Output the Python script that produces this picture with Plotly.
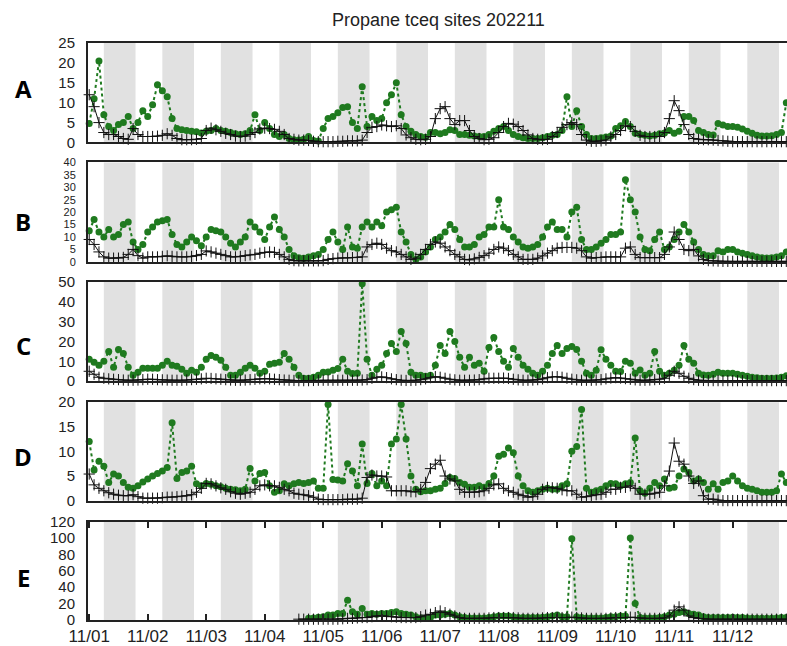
import pandas as pd
import plotly.graph_objects as go

title_text = "Propane tceq sites 202211"
panel_letters = ["A", "B", "C", "D", "E"]
day_labels = ["11/01", "11/02", "11/03", "11/04", "11/05", "11/06",
              "11/07", "11/08", "11/09", "11/10", "11/11", "11/12"]
y_max = [25, 40, 50, 20, 120]
y_step = [5, 5, 10, 5, 20]

# 2-hourly samples from 2022-11-01 00:00 (12 per day, 12 days)
times = pd.date_range("2022-11-01 00:00", periods=144, freq="2h")
N = None

A_green = [
    4.8, 11, 20.5, 7, 4, 3, 4.5, 5, 6.5, 3.5, 5, 8,
    6.5, 9.5, 14.5, 13, 11.5, 6, 3.5, 3.2, 3, 2.8, 2.7, 2.4,
    2.8, 3, 3.5, 3, 2.8, 2.5, 2.2, 2, 2.2, 3, 7, 3,
    5, 3.5, 2, 1.5, 2, 1, 0.7, 0.6, 0.8, 1.5, 0.5, 0.4,
    3.5, 6, 6.5, 7.5, 8.8, 9, 5, 3.5, 14, 4, 6.5, 5.5,
    6, 10, 12, 15, 7, 4, 2.8, 2, 1.5, 1.3, 2.5, 2.5,
    2.2, 2.5, 3.2, 3, 2, 2, 1.8, 1.6, 1.5, 1.5, 2, 2.8,
    3.5, 4, 3, 2, 1.5, 1.2, 1, 1, 1, 1.2, 1.5, 1.8,
    2, 3, 11.5, 4, 8, 4, 2, 1, 1, 1.2, 1.4, 1.6,
    3.5, 4.2, 5.3, 4, 2.3, 2, 1.8, 1.6, 1.8, 2.2, 2.4, 3,
    2.3, 2.8, 6.5, 6.5, 5.5, 3, 2.5, 2, 1.9, 4.8, 4.4, 4,
    4, 3.8, 3.4, 2.8, 2.3, 1.8, 1.6, 1.6, 1.7, 2, 2.5, 10,
]
A_black = [
    12, 9, 5, 2.5, 2, 2, 1.5, 1, 0.8, 3.5, 2, 1.5,
    1.5, 1.5, 1.6, 1.8, 2.2, 1.8, 1, 0.7, 0.7, 0.7, 0.8, 1,
    3, 3.6, 3.2, 2.8, 2.3, 2, 1.6, 1.5, 1.6, 2, 2.5, 3.4,
    3.6, 3.5, 3.3, 2.8, 2, 1, 0.8, 0.6, 0.6, 0.5, 0.3, 0.2,
    0.2, 0.2, 0.2, 0.3, 0.3, 0.4, 0.4, 0.4, 0.6, 2.5, 3.8, 4,
    4.4, 4.2, 4, 4.2, 3.5, 1.9, 1.2, 0.8, 0.7, 0.8, 1.5, 6,
    8.5, 9, 6, 4.5, 5.5, 5.5, 3, 1.5, 1, 0.7, 0.8, 1.2,
    2.5, 4, 4.8, 4.6, 4, 3, 1.9, 1, 0.8, 0.7, 0.8, 1.5,
    2.5, 3.8, 4.5, 5, 4.5, 2, 0.6, 0.3, 0.3, 0.4, 0.6, 1.4,
    2, 3, 4.2, 4, 2.8, 1.8, 1.5, 1.5, 1.5, 1.5, 2.5, 6,
    10.5, 8, 4.5, 2, 1, 0.8, 0.7, 0.7, 0.6, 0.5, 0.4, 0.3,
    0.2, 0.2, 0.2, 0.2, 0.2, 0.2, 0.2, 0.2, 0.2, 0.2, 0.2, 0.2,
]
B_green = [
    12.5, 17, 12, 10, 13, 10, 11, 15, 16, 8, 5, 7,
    12, 14, 16, 16.5, 17, 11, 7, 6, 8, 10, 8.5, 6.5,
    10, 13, 12.5, 12, 10, 7.5, 6, 8, 10, 16, 14, 12,
    9, 14, 18, 13, 10, 5, 2.5, 1.7, 1.5, 2, 2.5, 3,
    5, 9, 12, 8, 5, 14, 6, 5.5, 14, 16, 14, 16,
    14.5, 20, 21, 22, 12, 8, 3, 1, 2, 4, 6, 9,
    10, 12, 15, 13, 9, 6, 6, 7, 10, 11, 14, 14,
    25, 14, 13, 10, 8, 6, 5.5, 6, 7, 10, 14, 16,
    13, 13, 10, 20, 22, 9, 5, 5, 6, 7.5, 9, 11,
    11, 12, 33, 25, 20, 10, 5, 4.5, 9, 12, 5, 6,
    9, 12, 15, 12, 8, 5, 3, 2.5, 2.5, 4.5, 4, 5,
    5, 4, 3.5, 3, 2.5, 2, 1.7, 1.6, 1.7, 2, 2.5, 4,
]
B_black = [
    9, 7, 4, 2, 1.5, 1.5, 1.5, 1.8, 3, 5, 2.5, 1.5,
    2, 2, 2, 2.2, 2.4, 2.2, 2, 2, 2, 2.2, 2.5, 3,
    4.4, 4, 3.5, 3, 2.5, 2, 2, 2.2, 2.5, 2.8, 3, 3.5,
    3.8, 4, 3.8, 3, 2, 1, 0.5, 0.4, 0.4, 0.4, 0.4, 0.4,
    0.5, 1, 1.3, 1.5, 1.6, 1.6, 1.7, 1.8, 2, 6, 7, 7.5,
    7, 5.5, 4.5, 4, 3, 2, 1, 1.5, 3, 5, 7, 8,
    7.5, 6, 4.5, 3, 2, 1, 0.8, 1.2, 1.8, 2.5, 3.5, 5,
    6, 5.5, 4.5, 3, 2, 1, 1, 1, 1.5, 2.4, 3.5, 4.5,
    5.5, 5.8, 5.8, 5.8, 5.5, 4.5, 2, 1.5, 1.7, 1.8, 2, 2,
    2, 2, 5.5, 6, 3, 1.7, 1.7, 1.7, 1.7, 1.7, 3, 6,
    12, 9, 5, 4.5, 5, 2.4, 1, 0.5, 0.4, 0.3, 0.2, 0.2,
    0.2, 0.2, 0.2, 0.2, 0.2, 0.2, 0.2, 0.2, 0.2, 0.2, 0.2, 0.2,
]
C_green = [
    11, 9.5, 8, 10, 15, 7, 16, 14, 7, 3, 4.5, 6.5,
    6.5, 6.5, 6.5, 8, 10, 8, 7.5, 6, 4, 5.5, 4.5, 7,
    11, 13, 12, 10.5, 7, 3, 3, 4.5, 6.5, 8, 6.5, 4,
    5, 8.5, 9, 9.5, 14, 11, 7, 3, 1.5, 1.5, 2, 3,
    4.5, 4.7, 5.5, 6.4, 11, 5, 3.9, 4, 49, 11, 3, 6,
    8, 14, 19, 15, 25, 19, 4.5, 3, 3, 2.5, 3, 8,
    18, 14, 25, 20, 12, 7, 12, 8, 9, 5, 17, 22,
    15, 10, 7, 16.5, 12, 8, 6, 4, 3, 5, 8, 14,
    18, 14, 16.5, 17.4, 16, 10, 4, 3, 5.5, 15.8, 11, 8,
    5, 4.9, 10, 9, 4, 5.7, 3, 4, 15, 5, 3, 4,
    5.5, 8, 18, 11, 9, 4, 3.2, 3, 3.5, 4.5, 4, 4,
    4, 3.5, 3, 2.5, 2, 1.8, 1.5, 1.5, 1.5, 1.6, 2, 2.7,
]
C_black = [
    5, 3.5, 2, 1.5, 1.2, 1, 0.8, 0.6, 0.5, 0.5, 0.6, 0.8,
    1, 1, 0.8, 0.7, 0.6, 0.5, 0.5, 0.5, 0.6, 0.8, 1, 1.2,
    1.5, 1.4, 1.2, 1, 0.8, 0.6, 0.5, 0.5, 0.6, 0.8, 1, 1.2,
    1.3, 1.2, 1, 0.8, 0.6, 0.5, 0.4, 0.3, 0.3, 0.3, 0.4, 0.5,
    0.5, 0.5, 0.5, 0.5, 0.5, 0.5, 0.5, 0.5, 0.6, 0.8, 1.5, 2,
    2.2, 1.8, 1.2, 0.8, 0.5, 0.4, 0.4, 0.5, 0.8, 1.2, 1.8, 2.3,
    2, 1.5, 1, 0.7, 0.5, 0.5, 0.5, 0.6, 0.8, 1.2, 1.5, 1.5,
    1.5, 1.6, 1.4, 1, 0.7, 0.5, 0.5, 0.6, 0.8, 1.2, 1.8, 2.2,
    2.3, 2, 1.5, 1, 0.7, 0.5, 0.5, 0.5, 0.6, 0.8, 1.2, 1.6,
    1.8, 1.6, 1.3, 1, 0.7, 0.5, 0.5, 0.6, 0.8, 1, 1.5, 3,
    5, 4, 2.5, 1.5, 0.8, 0.5, 0.4, 0.3, 0.3, 0.3, 0.3, 0.3,
    0.3, 0.3, 0.3, 0.3, 0.3, 0.3, 0.3, 0.3, 0.3, 0.3, 0.3, 0.3,
]
D_green = [
    12, 6.2, 8, 7, 3.7, 5.4, 5, 3.7, 2.7, 2.5, 3, 3.8,
    4.4, 5, 5.5, 6, 6.7, 15.8, 4.5, 5.7, 6, 7, 3.4, 3,
    3.5, 3.3, 3, 2.8, 2.5, 2.3, 2.2, 2, 2.3, 6.5, 4, 5.5,
    5.7, 3, 1.7, 2, 3.4, 3, 3.4, 3.7, 3.5, 3.7, 4, 2.5,
    2.5, 19.5, 4.3, 4.2, 4, 7.5, 6, 3, 11.5, 3.5, 5.5, 3,
    4, 3, 11.5, 12.5, 19.5, 12.5, 5, 2.3, 1.8, 2, 2, 2.3,
    2.5, 3.5, 4.7, 4.5, 3.7, 3.3, 2.7, 2.7, 3, 2.7, 3.5, 5,
    9, 9.4, 10.7, 9.7, 5, 3, 2, 1.7, 2, 2.3, 2.5, 2.3,
    2.3, 3, 3.4, 10, 11, 18.5, 2.5, 1.7, 2, 2.3, 3, 3.5,
    3.4, 3, 3.4, 3.7, 12.7, 2, 1.5, 2.5, 3.7, 3, 4.4, 2.5,
    2.7, 5, 6.4, 5.7, 4, 4.4, 3.7, 2.3, 3.4, 2.3, 3.7, 4,
    5, 4, 3, 2.5, 2.3, 2, 1.7, 1.7, 1.7, 2, 5.4, 3.7,
]
D_black = [
    5.4, 3.2, 2.5, 2, 1.6, 1.3, 1.1, 1, 1, 1.2, 0.8, 0.5,
    0.5, 0.5, 0.5, 0.6, 0.7, 0.7, 0.8, 0.9, 1, 1.2, 1.7, 2.5,
    3.5, 3.4, 3, 2.6, 2.3, 1.8, 1.5, 1.3, 1.5, 1.7, 2.3, 3,
    3.2, 3, 3, 2.7, 2.3, 2, 1.5, 1.3, 1.2, 1, 0.7, 0.3,
    0.2, 0.2, 0.2, 0.2, 0.2, 0.3, 0.3, 0.3, 0.5, 4.7, 5.2, 5,
    5, 4.8, 2, 2, 2, 2, 1.8, 1.8, 2.3, 3.7, 6.5, 7.4,
    8.2, 5, 4.4, 4, 2.3, 1.7, 1.7, 1.7, 1.8, 2, 2.5, 3.2,
    3.4, 2.5, 2, 1.7, 1.3, 1, 0.7, 0.8, 1.3, 2.3, 2.7, 2.6,
    2.5, 2.2, 2, 2, 1.3, 0.7, 0.8, 1, 1.2, 1.3, 1.7, 2.3,
    2.3, 2.7, 2.7, 3, 2.5, 1.3, 1.3, 1.3, 1.5, 1.7, 3, 6,
    11.7, 8, 7.4, 5, 3.5, 4, 1, 0.3, 0.3, 0.1, 0, 0,
    0, 0, 0, 0, 0, 0, 0, 0, 0, 0, 0, 0,
]
E_green = [
    N, N, N, N, N, N, N, N, N, N, N, N,
    N, N, N, N, N, N, N, N, N, N, N, N,
    N, N, N, N, N, N, N, N, N, N, N, N,
    N, N, N, N, N, N, N, N, N, 2, 2.5, 3.5,
    4, 6, 6, 8, 8, 24, 10, 7, 14, 7, 8, 7,
    8, 8, 9, 10, 8, 7, 6, 4, 2.5, 2, 3, 6,
    6, 7, 8, 6, 4, 3, 2.5, 2.5, 2.5, 2.5, 3, 4,
    5, 5, 5, 4, 3, 3, 3, 3, 3, 3.5, 4, 5,
    6, 4, 4, 99, 4, 3, 2.5, 2.5, 2.5, 2.5, 3, 4,
    4, 5, 5, 100, 20, 3, 2.5, 2.5, 2.5, 3, 4, 6,
    7, 9, 10, 8, 7, 6, 4, 3, 3, 3, 3, 3,
    3.5, 3, 3, 2.5, 2, 2, 2, 2, 2, 2.5, 3, 3,
]
E_black = [
    N, N, N, N, N, N, N, N, N, N, N, N,
    N, N, N, N, N, N, N, N, N, N, N, N,
    N, N, N, N, N, N, N, N, N, N, N, N,
    N, N, N, N, N, N, N, 1, 1, 1, 1, 1,
    1, 1, 1, 1, 1.5, 2, 2, 2.5, 3, 3, 4, 5,
    5, 4.5, 4, 3.5, 3, 3, 3, 3, 4, 6, 7, 9,
    11, 9, 7, 5, 3, 2, 2, 2, 2, 2, 2.5, 3,
    3, 3, 3, 3, 2.5, 2, 2, 2, 2, 2.5, 3, 3,
    3, 3, 3, 3.5, 3, 2.5, 2, 2, 2, 2, 2, 2.5,
    3, 3, 3, 3.5, 3, 2.5, 2, 2, 2, 2, 2.5, 5,
    12, 16, 12, 5, 3, 2, 1.5, 1, 1, 1, 1, 1,
    1, 1, 1, 1, 1, 1, 1, 1, 1, 1, 1, 1,
]

green_series = [A_green, B_green, C_green, D_green, E_green]
black_series = [A_black, B_black, C_black, D_black, E_black]

# ---------------- layout geometry ----------------
W, H = 787, 646
ML, MT, MB = 88, 43, 23
PW, PH = W - ML, H - MT - MB
panel_px = [(43, 143), (163, 263), (283, 383), (404, 503), (524, 623)]  # top, bottom


def ypaper(py):
    return (H - MB - py) / PH


def xpaper(px):
    return (px - ML) / PW


GREEN = "#1f7a1f"
FRAME = "#222222"
xrange_ = ["2022-10-31 23:30", "2022-11-12 22:17"]
day_starts = pd.date_range("2022-11-01", periods=12, freq="D")

fig = go.Figure()
layout = dict(
    width=W, height=H,
    margin=dict(l=ML, r=0, t=MT, b=MB, pad=0),
    paper_bgcolor="white", plot_bgcolor="white",
    showlegend=False,
    font=dict(family="Liberation Sans, Arial, sans-serif", color="#222"),
)
shapes = []
annotations = []

for i in range(5):
    n = "" if i == 0 else str(i + 1)
    xa, ya = "x" + n, "y" + n
    top, bot = panel_px[i]
    last = (i == 4)
    layout["xaxis" + n] = dict(
        domain=[0, 1], anchor=ya, range=xrange_, type="date",
        showgrid=False, zeroline=False,
        showline=True, linewidth=2, linecolor=FRAME,
        mirror="ticks" if last else True,
        ticks="inside" if last else "", ticklen=6, tickwidth=2, tickcolor=FRAME,
        tickvals=list(day_starts), ticktext=day_labels,
        showticklabels=last,
        tickfont=dict(size=17, color="#222"),
    )
    layout["yaxis" + n] = dict(
        domain=[ypaper(bot), ypaper(top)], anchor=xa,
        range=[0, y_max[i]],
        tickvals=list(range(0, y_max[i] + 1, y_step[i])),
        showgrid=False, zeroline=False,
        showline=True, linewidth=2, linecolor=FRAME, mirror=False,
        ticks="", ticklabelstandoff=8,
        tickfont=dict(size=11 if i == 1 else 15, color="#222"),
    )
    # daytime shading
    for d in day_starts:
        shapes.append(dict(
            type="rect", xref=xa, yref=ya + " domain",
            x0=d + pd.Timedelta(hours=6), x1=d + pd.Timedelta(hours=19),
            y0=0, y1=1, fillcolor="#e1e1e1", line=dict(width=0), layer="below",
        ))
    fig.add_trace(go.Scatter(
        x=times, y=green_series[i], xaxis=xa, yaxis=ya, mode="lines+markers",
        line=dict(color=GREEN, width=2, dash="dot"),
        marker=dict(color=GREEN, size=7, symbol="circle"),
        cliponaxis=False, connectgaps=False,
    ))
    fig.add_trace(go.Scatter(
        x=times, y=black_series[i], xaxis=xa, yaxis=ya, mode="lines+markers",
        line=dict(color="#111", width=1),
        marker=dict(symbol="cross-thin", size=8, line=dict(width=1, color="#111")),
        cliponaxis=False, connectgaps=False,
    ))

letter_y = [89, 222, 347, 459, 580]
for i, letter in enumerate(panel_letters):
    annotations.append(dict(
        text="<b>%s</b>" % letter, xref="paper", yref="paper",
        x=xpaper(23), y=ypaper(letter_y[i]), xanchor="center", yanchor="middle",
        showarrow=False, font=dict(family="Open Sans, Liberation Sans, sans-serif", size=24, color="#000"),
    ))
annotations.append(dict(
    text=title_text, xref="paper", yref="paper",
    x=xpaper(438), y=ypaper(20), xanchor="center", yanchor="middle",
    showarrow=False, font=dict(size=18, color="#222"),
))
layout["shapes"] = shapes
layout["annotations"] = annotations
fig.update_layout(**layout)
fig.write_html("out.html")
